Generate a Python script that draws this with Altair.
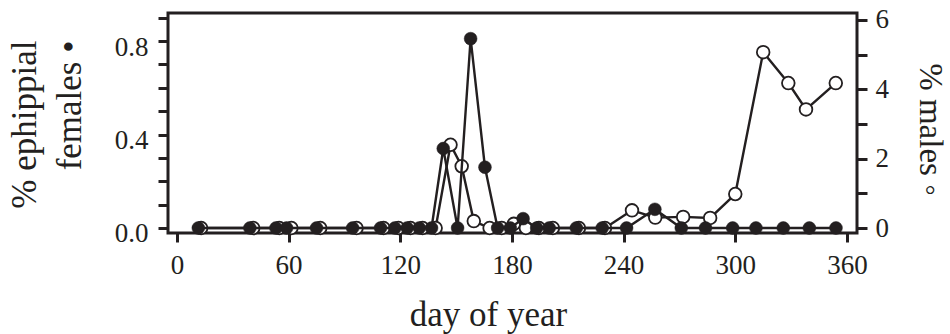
import altair as alt
import pandas as pd

# Sampling days and percentages for each series
fem_day = [11.5, 39.2, 53.2, 58.9, 75, 94.4, 109.4, 117.1, 123.7, 130.2, 136.8,
           143.1, 150.8, 157.8, 165.5, 172.3, 179.1, 186, 193.3, 200, 214.6,
           228.5, 241.6, 256.8, 271, 284, 298.6, 311.1, 325.8, 339.8, 354.1]
fem_pct = [0, 0, 0, 0, 0, 0, 0, 0, 0, 0, 0,
           0.34, 0, 0.81, 0.26, 0, 0, 0.04, 0, 0, 0,
           0, 0, 0.08, 0, 0, 0, 0, 0, 0, 0]

male_day = [13, 41, 55, 61.5, 77, 96.5, 111, 119, 125.5, 132, 139,
            147, 153, 159.5, 168, 174.5, 181, 187.5, 194.5, 202, 216,
            230, 244.5, 257, 272, 286.5, 300, 315, 328.5, 338, 354]
male_pct = [0, 0, 0, 0, 0, 0, 0, 0, 0, 0, 0,
            2.40, 1.78, 0.2, 0, 0, 0.12, 0, 0, 0, 0,
            0, 0.51, 0.3, 0.32, 0.29, 0.98, 5.07, 4.18, 3.42, 4.18]

x_ticks = [0, 60, 120, 180, 240, 300, 360]
fem_ticks = [0, 0.1, 0.2, 0.3, 0.4, 0.5, 0.6, 0.7, 0.8, 0.9]
male_ticks = [0, 1, 2, 3, 4, 5, 6]

INK = "#231f20"
SERIF = "Liberation Serif"

fem = pd.DataFrame({"day": fem_day, "pct": fem_pct})
male = pd.DataFrame({"day": male_day, "pct": male_pct})

x_enc = alt.X(
    "day:Q",
    scale=alt.Scale(domain=[-4.8, 365.4], nice=False, zero=False),
    axis=alt.Axis(
        values=x_ticks, title="day of year", orient="bottom",
        tickSize=9, labelPadding=10,
        titleX=320, titleY=92, titleAlign="center", titleBaseline="alphabetic",
    ),
)

male_y = alt.Y(
    "pct:Q",
    scale=alt.Scale(domain=[-0.144, 6.2], nice=False, zero=False),
    axis=alt.Axis(
        orient="right", values=male_ticks,
        labelExpr="datum.value % 2 == 0 ? datum.label : ''",
        tickSize=10, labelPadding=8,
        title="% males ◦", titleAngle=90, titleFontSize=33,
        titleX=62, titleY=116, titleAlign="center", titleBaseline="alphabetic",
    ),
)

fem_y = alt.Y(
    "pct:Q",
    scale=alt.Scale(domain=[-0.0214, 0.9198], nice=False, zero=False),
    axis=alt.Axis(
        orient="left", values=fem_ticks, format=".1f",
        labelExpr="round(datum.value * 10) % 4 == 0 ? datum.label : ''",
        tickSize=10, labelPadding=10, labelOffset=6,
        title=["% ephippial", "females •"], titleAngle=270,
        titleX=-133, titleY=27, titleAlign="right", titleBaseline="alphabetic",
        titleLineHeight=45,
    ),
)

male_line = alt.Chart(male).mark_line(color=INK, strokeWidth=2.4).encode(x=x_enc, y=male_y)
male_pts = alt.Chart(male).mark_point(
    shape="circle", filled=True, fill="white", stroke=INK,
    strokeWidth=1.8, size=160, opacity=1,
).encode(x=x_enc, y=male_y)

fem_line = alt.Chart(fem).mark_line(color=INK, strokeWidth=2.4).encode(x=x_enc, y=fem_y)
fem_pts = alt.Chart(fem).mark_point(
    shape="circle", filled=True, fill=INK, stroke=INK,
    strokeWidth=0.5, size=165, opacity=1,
).encode(x=x_enc, y=fem_y)

chart = (
    alt.layer(alt.layer(male_line, male_pts), alt.layer(fem_line, fem_pts))
    .resolve_scale(y="independent")
    .properties(
        width=689, height=220,
        autosize=alt.AutoSizeParams(type="none"),
        padding={"left": 168, "top": 13, "right": 93, "bottom": 101},
        background="white",
    )
    .configure_view(stroke=INK, strokeWidth=3)
    .configure_axis(
        grid=False, domain=False,
        tickColor=INK, tickWidth=3,
        labelFont=SERIF, labelFontSize=27, labelColor=INK,
        titleFont=SERIF, titleFontSize=35, titleFontWeight="normal", titleColor=INK,
    )
)

chart.save("out.html", embed_options={"renderer": "svg", "actions": False})
